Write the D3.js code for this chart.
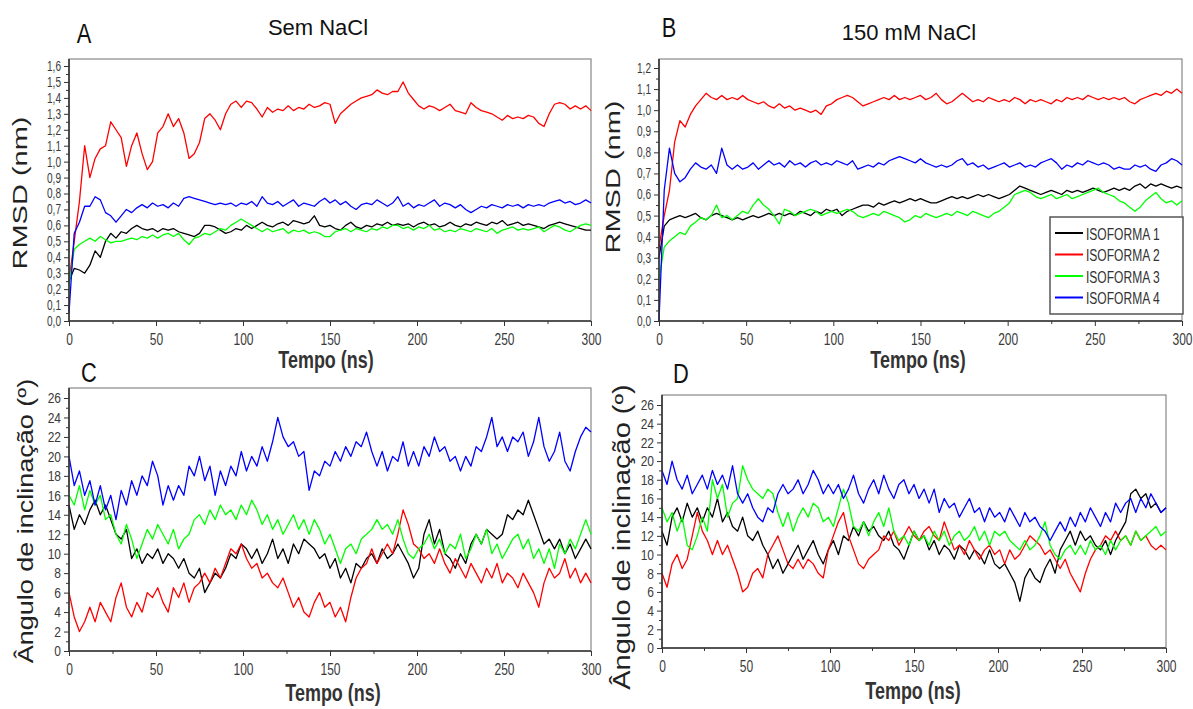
<!DOCTYPE html>
<html>
<head>
<meta charset="utf-8">
<script src="https://cdn.jsdelivr.net/npm/d3@7"></script>
<style>
body { margin: 0; background: #fff; }
svg { display: block; }
text { font-family: "Liberation Sans", Arial, sans-serif; }
</style>
</head>
<body>
<div id="container"></div>
<script>
const width = 1193, height = 709;

// sampling grid (ns)
const timeNs = d3.range(0, 301, 3);

const isoformNames = ["ISOFORMA 1", "ISOFORMA 2", "ISOFORMA 3", "ISOFORMA 4"];
const isoformColors = ["#000000", "#ff0000", "#00ff00", "#0000ff"];

// A - RMSD, sem NaCl
const rmsdSemIso1 = [0.25,0.33,0.32,0.30,0.35,0.44,0.40,0.50,0.55,0.52,
 0.56,0.55,0.58,0.60,0.58,0.57,0.58,0.56,0.58,0.57,
 0.58,0.56,0.55,0.54,0.53,0.55,0.60,0.60,0.59,0.57,
 0.55,0.56,0.58,0.57,0.60,0.58,0.60,0.62,0.60,0.59,
 0.61,0.62,0.60,0.63,0.62,0.61,0.62,0.66,0.60,0.59,
 0.60,0.58,0.57,0.60,0.62,0.59,0.58,0.60,0.59,0.61,
 0.60,0.62,0.60,0.61,0.60,0.61,0.59,0.61,0.62,0.60,
 0.61,0.59,0.60,0.62,0.60,0.59,0.61,0.60,0.62,0.61,
 0.60,0.62,0.61,0.63,0.60,0.61,0.62,0.60,0.61,0.60,
 0.59,0.58,0.60,0.61,0.62,0.61,0.60,0.59,0.58,0.57,
 0.57];
const rmsdSemIso2 = [0.25,0.50,0.75,1.10,0.90,1.02,1.08,1.10,1.25,1.20,
 1.15,0.97,1.10,1.18,1.05,0.95,1.00,1.18,1.22,1.30,
 1.22,1.27,1.18,1.02,1.05,1.12,1.27,1.30,1.26,1.20,
 1.30,1.36,1.38,1.34,1.38,1.37,1.33,1.28,1.34,1.31,
 1.33,1.32,1.35,1.32,1.34,1.33,1.36,1.34,1.35,1.37,
 1.36,1.24,1.30,1.33,1.36,1.38,1.40,1.41,1.42,1.45,
 1.43,1.42,1.44,1.44,1.50,1.43,1.39,1.35,1.33,1.35,
 1.34,1.32,1.34,1.36,1.32,1.31,1.30,1.37,1.34,1.32,
 1.31,1.30,1.28,1.26,1.29,1.27,1.28,1.27,1.29,1.28,
 1.24,1.22,1.30,1.36,1.37,1.36,1.33,1.35,1.33,1.35,
 1.32];
const rmsdSemIso3 = [0.22,0.45,0.48,0.50,0.52,0.50,0.53,0.51,0.49,0.50,
 0.50,0.51,0.52,0.51,0.53,0.52,0.54,0.52,0.54,0.55,
 0.53,0.55,0.51,0.48,0.52,0.53,0.55,0.54,0.56,0.58,
 0.57,0.60,0.62,0.64,0.62,0.60,0.58,0.56,0.58,0.56,
 0.57,0.58,0.55,0.57,0.56,0.57,0.55,0.56,0.55,0.53,
 0.53,0.56,0.57,0.58,0.56,0.58,0.57,0.56,0.58,0.57,
 0.59,0.58,0.60,0.60,0.58,0.59,0.57,0.59,0.58,0.60,
 0.57,0.58,0.56,0.57,0.56,0.58,0.57,0.56,0.58,0.57,
 0.56,0.58,0.55,0.57,0.58,0.59,0.57,0.58,0.57,0.58,
 0.59,0.56,0.58,0.60,0.59,0.57,0.56,0.58,0.60,0.61,
 0.60];
const rmsdSemIso4 = [0.05,0.55,0.62,0.72,0.72,0.78,0.76,0.68,0.66,0.62,
 0.66,0.70,0.68,0.71,0.73,0.71,0.74,0.72,0.73,0.71,
 0.74,0.72,0.77,0.78,0.77,0.76,0.75,0.74,0.73,0.74,
 0.73,0.74,0.72,0.74,0.73,0.75,0.72,0.78,0.74,0.73,
 0.75,0.72,0.74,0.76,0.72,0.74,0.73,0.72,0.75,0.77,
 0.74,0.76,0.73,0.75,0.72,0.70,0.73,0.74,0.73,0.76,
 0.74,0.72,0.74,0.78,0.72,0.74,0.71,0.73,0.72,0.74,
 0.76,0.72,0.74,0.73,0.71,0.73,0.70,0.68,0.70,0.72,
 0.71,0.73,0.72,0.71,0.73,0.72,0.73,0.71,0.73,0.72,
 0.73,0.72,0.74,0.75,0.76,0.74,0.75,0.73,0.74,0.76,
 0.74];

// B - RMSD, 150 mM NaCl
const rmsdSalIso1 = [0.30,0.45,0.48,0.49,0.50,0.49,0.50,0.51,0.49,0.48,
 0.50,0.51,0.50,0.49,0.48,0.49,0.48,0.49,0.50,0.49,
 0.50,0.51,0.50,0.51,0.50,0.51,0.50,0.52,0.51,0.50,
 0.52,0.51,0.53,0.52,0.53,0.50,0.52,0.53,0.54,0.55,
 0.55,0.54,0.56,0.55,0.56,0.57,0.56,0.57,0.58,0.57,
 0.58,0.57,0.56,0.56,0.57,0.58,0.59,0.58,0.59,0.58,
 0.59,0.60,0.59,0.60,0.59,0.58,0.59,0.60,0.62,0.64,
 0.63,0.62,0.61,0.60,0.61,0.62,0.61,0.60,0.62,0.61,
 0.62,0.61,0.62,0.63,0.62,0.61,0.62,0.63,0.62,0.63,
 0.62,0.64,0.65,0.63,0.65,0.64,0.65,0.64,0.63,0.64,
 0.63];
const rmsdSalIso2 = [0.35,0.50,0.62,0.85,0.95,0.92,0.98,1.02,1.05,1.08,
 1.06,1.05,1.07,1.05,1.06,1.05,1.07,1.05,1.04,1.03,
 1.04,1.02,1.01,1.03,1.01,1.02,1.00,1.01,1.00,0.99,
 1.00,0.98,1.02,1.03,1.05,1.06,1.07,1.06,1.04,1.02,
 1.03,1.04,1.05,1.06,1.05,1.07,1.05,1.06,1.05,1.06,
 1.07,1.05,1.06,1.08,1.05,1.03,1.04,1.06,1.08,1.06,
 1.04,1.05,1.04,1.06,1.05,1.04,1.05,1.04,1.06,1.05,
 1.03,1.05,1.04,1.05,1.04,1.03,1.05,1.04,1.06,1.05,
 1.06,1.05,1.07,1.06,1.05,1.06,1.05,1.06,1.05,1.06,
 1.04,1.03,1.05,1.06,1.07,1.08,1.07,1.09,1.08,1.10,
 1.08];
const rmsdSalIso3 = [0.20,0.35,0.38,0.40,0.42,0.41,0.45,0.47,0.49,0.48,
 0.50,0.55,0.49,0.50,0.48,0.50,0.52,0.51,0.55,0.58,
 0.55,0.53,0.50,0.46,0.53,0.52,0.50,0.51,0.52,0.53,
 0.52,0.50,0.51,0.52,0.51,0.52,0.53,0.52,0.50,0.49,
 0.50,0.51,0.50,0.52,0.51,0.50,0.49,0.47,0.48,0.50,
 0.49,0.51,0.50,0.49,0.50,0.51,0.50,0.52,0.51,0.50,
 0.52,0.51,0.50,0.49,0.51,0.52,0.54,0.56,0.60,0.61,
 0.62,0.61,0.59,0.58,0.59,0.60,0.58,0.59,0.60,0.58,
 0.59,0.60,0.61,0.62,0.63,0.61,0.60,0.59,0.57,0.56,
 0.54,0.52,0.54,0.57,0.59,0.61,0.58,0.56,0.57,0.55,
 0.57];
const rmsdSalIso4 = [0.00,0.62,0.82,0.70,0.66,0.68,0.72,0.75,0.73,0.72,
 0.74,0.70,0.82,0.74,0.72,0.74,0.72,0.73,0.75,0.72,
 0.74,0.76,0.74,0.75,0.73,0.76,0.74,0.75,0.73,0.75,
 0.76,0.74,0.75,0.74,0.76,0.75,0.74,0.76,0.72,0.73,
 0.74,0.73,0.75,0.74,0.76,0.77,0.78,0.77,0.76,0.75,
 0.77,0.75,0.74,0.73,0.74,0.73,0.74,0.76,0.77,0.74,
 0.75,0.73,0.74,0.72,0.73,0.74,0.75,0.73,0.74,0.75,
 0.73,0.74,0.73,0.75,0.76,0.77,0.75,0.72,0.74,0.73,
 0.75,0.74,0.76,0.75,0.74,0.75,0.74,0.72,0.73,0.72,
 0.72,0.74,0.73,0.74,0.72,0.71,0.74,0.75,0.77,0.76,
 0.74];

// C - tilt angle, sem NaCl
const tiltSemIso1 = [15,12.5,14,13,14.5,15.5,14,15,13.5,12,
 11.5,12.5,9.5,10.5,9,10,9.5,10.5,9,10,
 9.5,8.5,9.5,8,7.5,8.5,6,7,8,7.5,
 8.5,10,9.5,11,10.5,9.5,10.5,9,10,11.5,
 9.5,10.5,9,11,10,11.5,11,10.5,9.5,10,
 8.5,9.5,7.5,8.5,7,9,8.5,9.5,10,9,
 10.5,9.5,10,11,10,9,7.5,8.5,12,13.5,
 11,12.5,10,9.5,8.5,10,9,11,12,11,
 12.5,12,11.5,12,14,13.5,14.5,14,15.5,14,
 12.5,11,11.5,10.5,11.5,10,11,9.5,10.5,11.5,
 10.5];
const tiltSemIso2 = [6,3.5,2,3,4.5,3,5,4,3,5.5,
 7,4.5,3.5,5,4,6,5.5,6.5,5,4,
 6.5,5.5,7,5,6.5,7,8,7,8.5,7.5,
 9,10.5,10,11,9.5,8.5,9,7.5,8,7,
 6.5,7.5,6,4.5,5.5,4,3.5,5,6,4.5,
 5,3.5,4.5,3,5.5,7.5,8.5,9,10.5,9,
 10,11,10,12,14.5,13,11,10.5,9.5,10,
 9,10.5,9,8,9.5,8.5,7.5,9,8,7,
 8.5,7.5,9,7,8,7.5,6.5,8,7,6,
 4.5,7,8.5,7.5,8,9.5,7.5,8.5,7,8,
 7];
const tiltSemIso3 = [16,15,17,14.5,16.5,15,16,13.5,14,12,
 11,13,11.5,9.5,11,12.5,11.5,13,12,11,
 12.5,10.5,11.5,12,13.5,14,13,14.5,13.5,15,
 14,14.5,13.5,15,14,15.5,14.5,13,14,12.5,
 13.5,12,13,14,12.5,13.5,12,13.5,12.5,11,
 12,10.5,9,10.5,11,10,11.5,12,12.5,13.5,
 12.5,13,12,13.5,11.5,10,9.5,10.5,11,12,
 10.5,11.5,10,11,10.5,12,9.5,10.5,12,11,
 12.5,10,11,9.5,10.5,11.5,12,10.5,11.5,9.5,
 10.5,9,10.5,8.5,11,10,11.5,10.5,12,13.5,
 12];
const tiltSemIso4 = [20,17,18.5,16,17.5,15,17,14.5,16,13.5,
 16.5,15,17.5,16,18,17,19.5,18,15,17,
 15.5,17,16,19,18,20,17.5,19,16,18.5,
 17,19,18,20.5,18.5,20,19,21,19.5,21.5,
 24,22,21,21.5,20,20.5,16.5,18.5,18,19.5,
 19,20.5,19.5,21,20,21.5,21,22.5,20.5,19,
 20.5,18.5,20,19.5,21.5,19,20.5,19,21,20,
 22,20.5,21,19.5,20,18.5,20,19,21,20.5,
 22,24,21,22,20.5,22,21.5,22.5,20,21.5,
 24,21,19.5,20.5,22.5,19.5,18.5,20.5,22,23,
 22.5];

// D - tilt angle, 150 mM NaCl
const tiltSalIso1 = [12.5,11,14,15,13.5,15.5,14,15,13.5,15,
 14,16,13.5,14.5,13,12.5,14,12,11.5,12.5,
 11,10,8.5,9.5,8,9,10,11,9.5,10.5,
 11.5,10,9,10.5,11.5,10,12,11.5,13,12,
 13.5,12.5,13,12,11.5,12.5,11,10.5,9.5,11,
 12.5,11.5,12,10.5,11.5,10,11,10.5,9.5,11,
 10.5,9.5,10.5,10,9,10.5,9,8.5,9,8,
 7,5,7.5,8.5,7.5,7,8.5,9.5,8,10.5,
 11.5,12.5,11,12.5,11.5,12,11,10.5,11.5,10,
 11.5,12.5,13.5,16.5,17,16,16.5,15,15.5,14.5,
 15];
const tiltSalIso2 = [8,6.5,9,10,8.5,9.5,12,14.5,12.5,11.5,
 10,11.5,10,11,9.5,8,6,6.5,8,8.5,
 7.5,10,11,12,10.5,9,8.5,9.5,8.5,9.5,
 9,8,7.5,10.5,12,13.5,14.5,12,10.5,9,
 8.5,9.5,10,10.5,12,11.5,12.5,11,12,13,
 12,11.5,12.5,13,12,11.5,13.5,12,10.5,11,
 10,11.5,10.5,9.5,10.5,11,10,10.5,9,10.5,
 9.5,10,11,12,11.5,11,10,10.5,9.5,8.5,
 9.5,8,7,6,8,9.5,10.5,11,12,11.5,
 12.5,11.5,12,11,12.5,11.5,12,11,10.5,11,
 10.5];
const tiltSalIso3 = [15,13.5,14.5,12.5,14,11,10.5,12,14,12.5,
 18,16,17.5,14,15.5,16,19.5,18,17,16.5,
 16,17,16.5,14.5,13,14.5,12.5,14,15,14,
 15.5,15,13.5,14,13,15,17,15.5,13,12.5,
 13.5,12,13.5,14.5,13,15,12.5,11.5,12,11,
 12.5,11.5,12,11,12.5,11.5,12.5,11,12,12.5,
 11.5,12,13,11.5,12.5,11,12.5,12,12.5,11.5,
 11,10.5,11.5,10.5,11,12,13.5,11,10,9.5,
 10.5,11,10,11,10,11.5,10.5,11,10,11.5,
 10.5,11.5,12,11,12.5,11.5,12,12.5,13,12,
 12.5];
const tiltSalIso4 = [19,17.5,20,18,17,18.5,16.5,17.5,18.5,17,
 19,17.5,18.5,17,19.5,16.5,15.5,16.5,15,14,
 13.5,15,14.5,16.5,17.5,16.5,17,18,16.5,17.5,
 19,18,16.5,17.5,16.5,17.5,16,17,18.5,16.5,
 15.5,17,18,16.5,18.5,17,16,17.5,18,16.5,
 17.5,16,17,15.5,17,14.5,16,15,15.5,14,
 15,16,14.5,15,13.5,15,14,14.5,13.5,15,
 14,13,14.5,13.5,14,13,12.5,11.5,12.5,13.5,
 12.5,14,13,14.5,13.5,15,14,13,14.5,13.5,
 15.5,14.5,15.5,16,14.5,16,15,16.5,15.5,14.5,
 15];

const xTicks = [0, 50, 100, 150, 200, 250, 300];
const xMinorTicks = [25, 75, 125, 175, 225, 275];
const rmsdFmt = v => d3.format(".1f")(v).replace(".", ",");

const panels = [
  { letter: "A", title: "Sem NaCl", ylabel: "RMSD (nm)",
    series: [rmsdSemIso1, rmsdSemIso2, rmsdSemIso3, rmsdSemIso4],
    left: 69, right: 591, bottom: 321, top: 66, frameTop: 59,
    yMax: 1.6, yStep: 0.1, fmt: rmsdFmt,
    letterPos: [84, 43], titlePos: [318, 35], ylabelPos: [27, 193, 29, 0.72], xlabelPos: [326, 368] },
  { letter: "B", title: "150 mM NaCl", ylabel: "RMSD (nm)",
    series: [rmsdSalIso1, rmsdSalIso2, rmsdSalIso3, rmsdSalIso4],
    left: 659, right: 1182, bottom: 321, top: 68, frameTop: 59,
    yMax: 1.2, yStep: 0.1, fmt: rmsdFmt, legend: true,
    letterPos: [669, 37], titlePos: [909, 40], ylabelPos: [620, 177, 29, 0.72], xlabelPos: [918, 368] },
  { letter: "C", title: null, ylabel: "Ângulo de inclinação (º)",
    series: [tiltSemIso1, tiltSemIso2, tiltSemIso3, tiltSemIso4],
    left: 69, right: 591, bottom: 651, top: 398, frameTop: 388,
    yMax: 26, yStep: 2, fmt: d3.format("d"),
    letterPos: [89, 382], titlePos: null, ylabelPos: [33, 521, 27, 0.82], xlabelPos: [333, 701] },
  { letter: "D", title: null, ylabel: "Ângulo de inclinação (º)",
    series: [tiltSalIso1, tiltSalIso2, tiltSalIso3, tiltSalIso4],
    left: 662, right: 1166, bottom: 648, top: 405, frameTop: 395,
    yMax: 26, yStep: 2, fmt: d3.format("d"),
    letterPos: [681, 383], titlePos: null, ylabelPos: [630, 537, 29, 0.8], xlabelPos: [913, 699] }
];

const svg = d3.select("#container").append("svg")
  .attr("width", width).attr("height", height)
  .attr("viewBox", [0, 0, width, height]);

// squeeze text horizontally to mimic the narrow font of the figure
function narrowTicks(sel, k) {
  sel.each(function () {
    const t = d3.select(this);
    const x0 = +t.attr("x") || 0;
    t.attr("x", x0 / k).attr("transform", `scale(${k},1)`);
  });
}
function narrowText(parent, x, y, k, txt) {
  return parent.append("text")
    .attr("transform", `translate(${x},${y}) scale(${k},1)`)
    .text(txt);
}

panels.forEach(p => {
  const g = svg.append("g");
  const x = d3.scaleLinear().domain([0, 300]).range([p.left, p.right]);
  const y = d3.scaleLinear().domain([0, p.yMax]).range([p.bottom, p.top]);

  const majorY = d3.range(0, p.yMax + p.yStep / 2, p.yStep);
  const minorY = d3.range(p.yStep / 2, p.yMax, p.yStep);

  // frame
  g.append("rect")
    .attr("x", p.left).attr("y", p.frameTop)
    .attr("width", p.right - p.left).attr("height", p.bottom - p.frameTop)
    .attr("fill", "none").attr("stroke", "#888").attr("stroke-width", 1.2);

  // series
  const line = d3.line().x((d, i) => x(timeNs[i])).y(d => y(d));
  p.series.forEach((vals, k) => {
    g.append("path")
      .datum(vals)
      .attr("fill", "none")
      .attr("stroke", isoformColors[k])
      .attr("stroke-width", 1.3)
      .attr("stroke-linejoin", "round")
      .attr("d", line);
  });

  // axes
  const xAxis = g.append("g").attr("transform", `translate(0,${p.bottom})`)
    .call(d3.axisBottom(x).tickValues(xTicks).tickSize(5).tickPadding(8).tickFormat(d3.format("d")));
  g.append("g").attr("transform", `translate(0,${p.bottom})`)
    .call(d3.axisBottom(x).tickValues(xMinorTicks).tickSize(3).tickFormat(""))
    .select(".domain").remove();
  const yAxis = g.append("g").attr("transform", `translate(${p.left},0)`)
    .call(d3.axisLeft(y).tickValues(majorY).tickSize(5).tickPadding(3).tickFormat(p.fmt));
  g.append("g").attr("transform", `translate(${p.left},0)`)
    .call(d3.axisLeft(y).tickValues(minorY).tickSize(3).tickFormat(""))
    .select(".domain").remove();

  xAxis.select(".domain").remove();
  yAxis.select(".domain").remove();
  g.append("line").attr("x1", p.left).attr("x2", p.right).attr("y1", p.bottom).attr("y2", p.bottom)
    .attr("stroke", "#333").attr("stroke-width", 1.6);
  g.append("line").attr("x1", p.left).attr("x2", p.left).attr("y1", p.frameTop).attr("y2", p.bottom)
    .attr("stroke", "#333").attr("stroke-width", 1.6);

  g.selectAll(".tick line").attr("stroke", "#333");
  xAxis.selectAll(".tick text").attr("font-size", 16).attr("fill", "#3a3a3a")
    .call(narrowTicks, 0.75);
  yAxis.selectAll(".tick text").attr("font-size", p.yMax > 2 ? 15 : 14).attr("fill", "#3a3a3a")
    .call(narrowTicks, p.yMax > 2 ? 0.8 : 0.72);

  // labels
  narrowText(g, p.letterPos[0], p.letterPos[1], 0.78, p.letter)
    .attr("text-anchor", "middle").attr("font-size", 28).attr("fill", "#111");
  if (p.title) {
    g.append("text")
      .attr("x", p.titlePos[0]).attr("y", p.titlePos[1])
      .attr("text-anchor", "middle").attr("font-size", 22).attr("fill", "#111")
      .text(p.title);
  }
  narrowText(g, p.xlabelPos[0], p.xlabelPos[1], 0.78, "Tempo (ns)")
    .attr("text-anchor", "middle").attr("font-size", 23).attr("font-weight", "bold").attr("fill", "#333");
  g.append("text")
    .attr("transform", `translate(${p.ylabelPos[0]},${p.ylabelPos[1]}) scale(${p.ylabelPos[3]},1) rotate(-90)`)
    .attr("text-anchor", "middle").attr("font-size", p.ylabelPos[2]).attr("fill", "#222")
    .text(p.ylabel);

  // legend
  if (p.legend) {
    const lg = g.append("g").attr("transform", "translate(1050,217)");
    lg.append("rect").attr("width", 133).attr("height", 97)
      .attr("fill", "#fff").attr("stroke", "#555").attr("stroke-width", 1.5);
    isoformNames.forEach((name, k) => {
      const yy = 16 + k * 21.5;
      lg.append("line").attr("x1", 5).attr("x2", 33).attr("y1", yy).attr("y2", yy)
        .attr("stroke", isoformColors[k]).attr("stroke-width", 2);
      narrowText(lg, 36, yy + 6.5, 0.73, name)
        .attr("font-size", 16.5).attr("fill", "#333");
    });
  }
});
</script>
</body>
</html>
